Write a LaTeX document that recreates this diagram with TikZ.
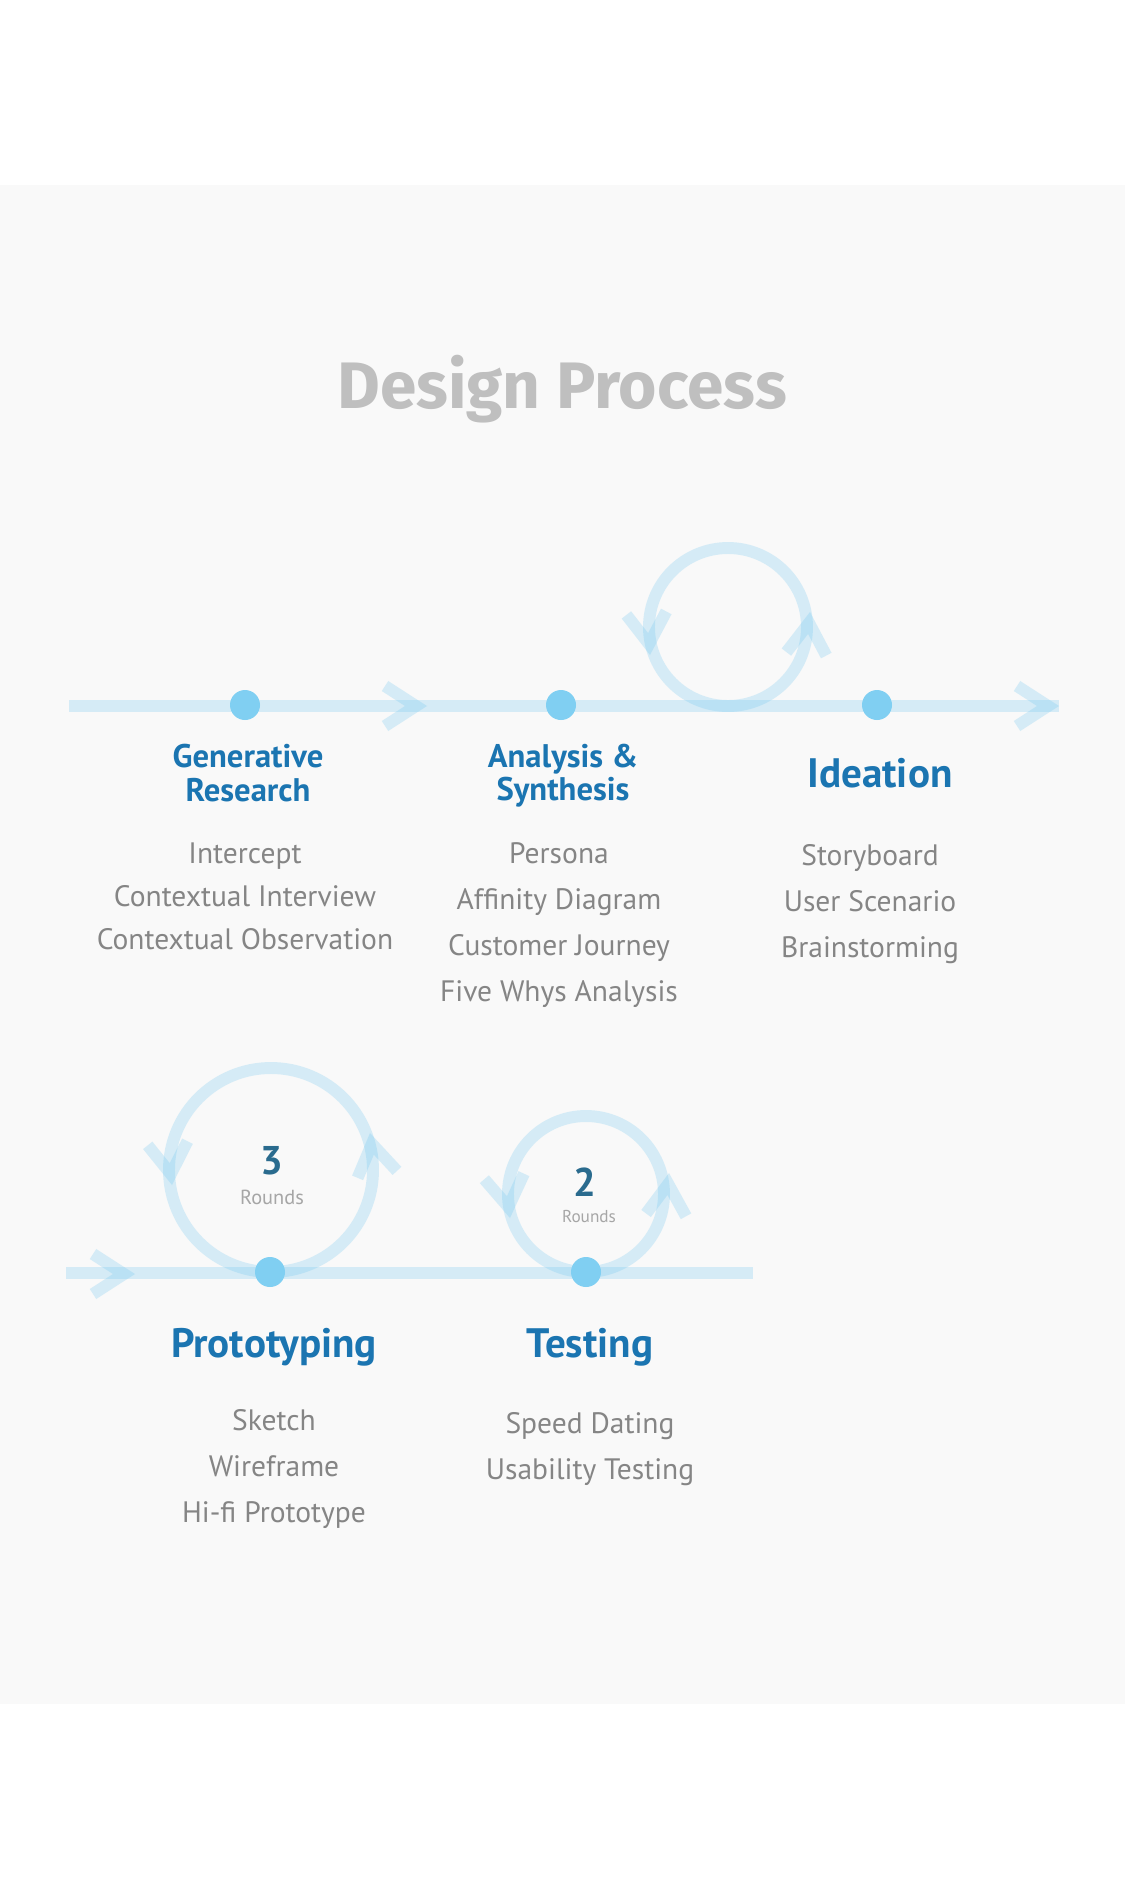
\documentclass[tikz,border=0pt]{standalone}
\usepackage{fontspec}
\setmainfont{PT Sans}
\newfontfamily\titlefont{Fira Sans}
\usetikzlibrary{positioning}

\definecolor{bandgray}{HTML}{F9F9F9}
\definecolor{titlegray}{HTML}{BFBFBF}
\definecolor{headblue}{HTML}{1B75B1}
\definecolor{itemgray}{HTML}{858585}
\definecolor{roundblue}{HTML}{2A6B8E}
\definecolor{roundgray}{HTML}{A6A6A6}
\definecolor{flowblue}{HTML}{6CC5F0}
\definecolor{dotblue}{HTML}{80CFF2}

\tikzset{
  flow/.style={draw=flowblue, draw opacity=0.25, line width=3.4pt, miter limit=10},
  dot/.style={circle, fill=dotblue, minimum size=0.3cm, inner sep=0pt},
  head/.style={text=headblue, font=\bfseries\fontsize{9.3}{11}\selectfont, anchor=base, inner sep=0pt},
  bighead/.style={text=headblue, font=\bfseries\fontsize{11.7}{13}\selectfont, anchor=base, inner sep=0pt},
  item/.style={text=itemgray, font=\fontsize{8.4}{10}\selectfont, anchor=base, inner sep=0pt},
  chev/.pic={\draw[flow] (-0.42,0.20) -- (-0.11,0) -- (-0.42,-0.20);}
}

\begin{document}
\begin{tikzpicture}
	\useasboundingbox (0,0) rectangle (11.25,-18.9);
	\fill[white] (0,0) rectangle (11.25,-18.9);
	\fill[bandgray] (0,-1.845) rectangle (11.25,-17.04);
	
	\node[text=titlegray, font=\titlefont\bfseries\fontsize{18.7}{21}\selectfont, anchor=base, inner sep=0pt] (title) at (5.62,-4.08) {Design Process};
	
	% upper row
	\coordinate (ustart) at (0.69,-7.06);
	\coordinate (uend) at (10.59,-7.06);
	\coordinate (loopI) at (7.28,-6.27);
	\draw[flow] (ustart) -- (uend);
	\draw[flow] (loopI) circle (0.79);
	\pic at (4.27,-7.06) {chev};
	\pic at (10.59,-7.06) {chev};
	\pic[rotate=-85] at (6.50,-6.55) {chev};
	\pic[rotate=85] at (8.10,-6.12) {chev};
	\node[dot] (gr) at (2.45,-7.05) {};
	\node[dot] (as) at (5.61,-7.05) {};
	\node[dot] (id) at (8.77,-7.05) {};
	
	% lower row
	\coordinate (lstart) at (0.66,-12.73);
	\coordinate (lend) at (7.53,-12.73);
	\coordinate (loopP) at (2.71,-11.70);
	\coordinate (loopT) at (5.86,-11.94);
	\draw[flow] (lstart) -- (lend);
	\draw[flow] (loopP) circle (1.02);
	\draw[flow] (loopT) circle (0.78);
	\pic at (1.35,-12.74) {chev};
	\pic[rotate=-84] at (1.72,-11.85) {chev};
	\pic[rotate=100] at (3.70,-11.33) {chev};
	\pic[rotate=-82] at (5.10,-12.18) {chev};
	\pic[rotate=86] at (6.69,-11.73) {chev};
	\node[dot] (pr) at (2.70,-12.72) {};
	\node[dot] (te) at (5.86,-12.72) {};
	
	% rounds
	\node[text=roundblue, font=\bfseries\fontsize{11.4}{12}\selectfont, anchor=base, inner sep=0pt] (nP) at (2.72,-11.74) {3};
	\node[text=roundgray, font=\fontsize{5.8}{7}\selectfont, anchor=base, inner sep=0pt] (rP) at (2.72,-12.04) {Rounds};
	\node[text=roundblue, font=\bfseries\fontsize{11.4}{12}\selectfont, anchor=base, inner sep=0pt] (nT) at (5.85,-11.96) {2};
	\node[text=roundgray, font=\fontsize{4.9}{6}\selectfont, anchor=base, inner sep=0pt] (rT) at (5.89,-12.22) {Rounds};
	
	% headings
	\node[head] (grh1) at (2.48,-7.67) {Generative};
	\node[head] (grh2) at (2.48,-8.01) {Research};
	\node[head] (ash1) at (5.63,-7.67) {Analysis \&};
	\node[head] (ash2) at (5.63,-8.00) {Synthesis};
	\node[bighead] (idh) at (8.80,-7.87) {Ideation};
	\node[bighead] (prh) at (2.74,-13.57) {Prototyping};
	\node[bighead] (teh) at (5.90,-13.57) {Testing};
	
	% methods
	\foreach \t [count=\i] in {Intercept, Contextual Interview, Contextual Observation}
		\node[item] (gr-\i) at (2.45,{-8.63-0.43*(\i-1)}) {\t};
	\foreach \t [count=\i] in {Persona, Affinity Diagram, Customer Journey, Five Whys Analysis}
		\node[item] (as-\i) at (5.59,{-8.63-0.46*(\i-1)}) {\t};
	\foreach \t [count=\i] in {Storyboard, User Scenario, Brainstorming}
		\node[item] (id-\i) at (8.70,{-8.65-0.46*(\i-1)}) {\t};
	\foreach \t [count=\i] in {Sketch, Wireframe, Hi-fi Prototype}
		\node[item] (pr-\i) at (2.74,{-14.30-0.46*(\i-1)}) {\t};
	\foreach \t [count=\i] in {Speed Dating, Usability Testing}
		\node[item] (te-\i) at (5.90,{-14.33-0.46*(\i-1)}) {\t};
\end{tikzpicture}
\end{document}
